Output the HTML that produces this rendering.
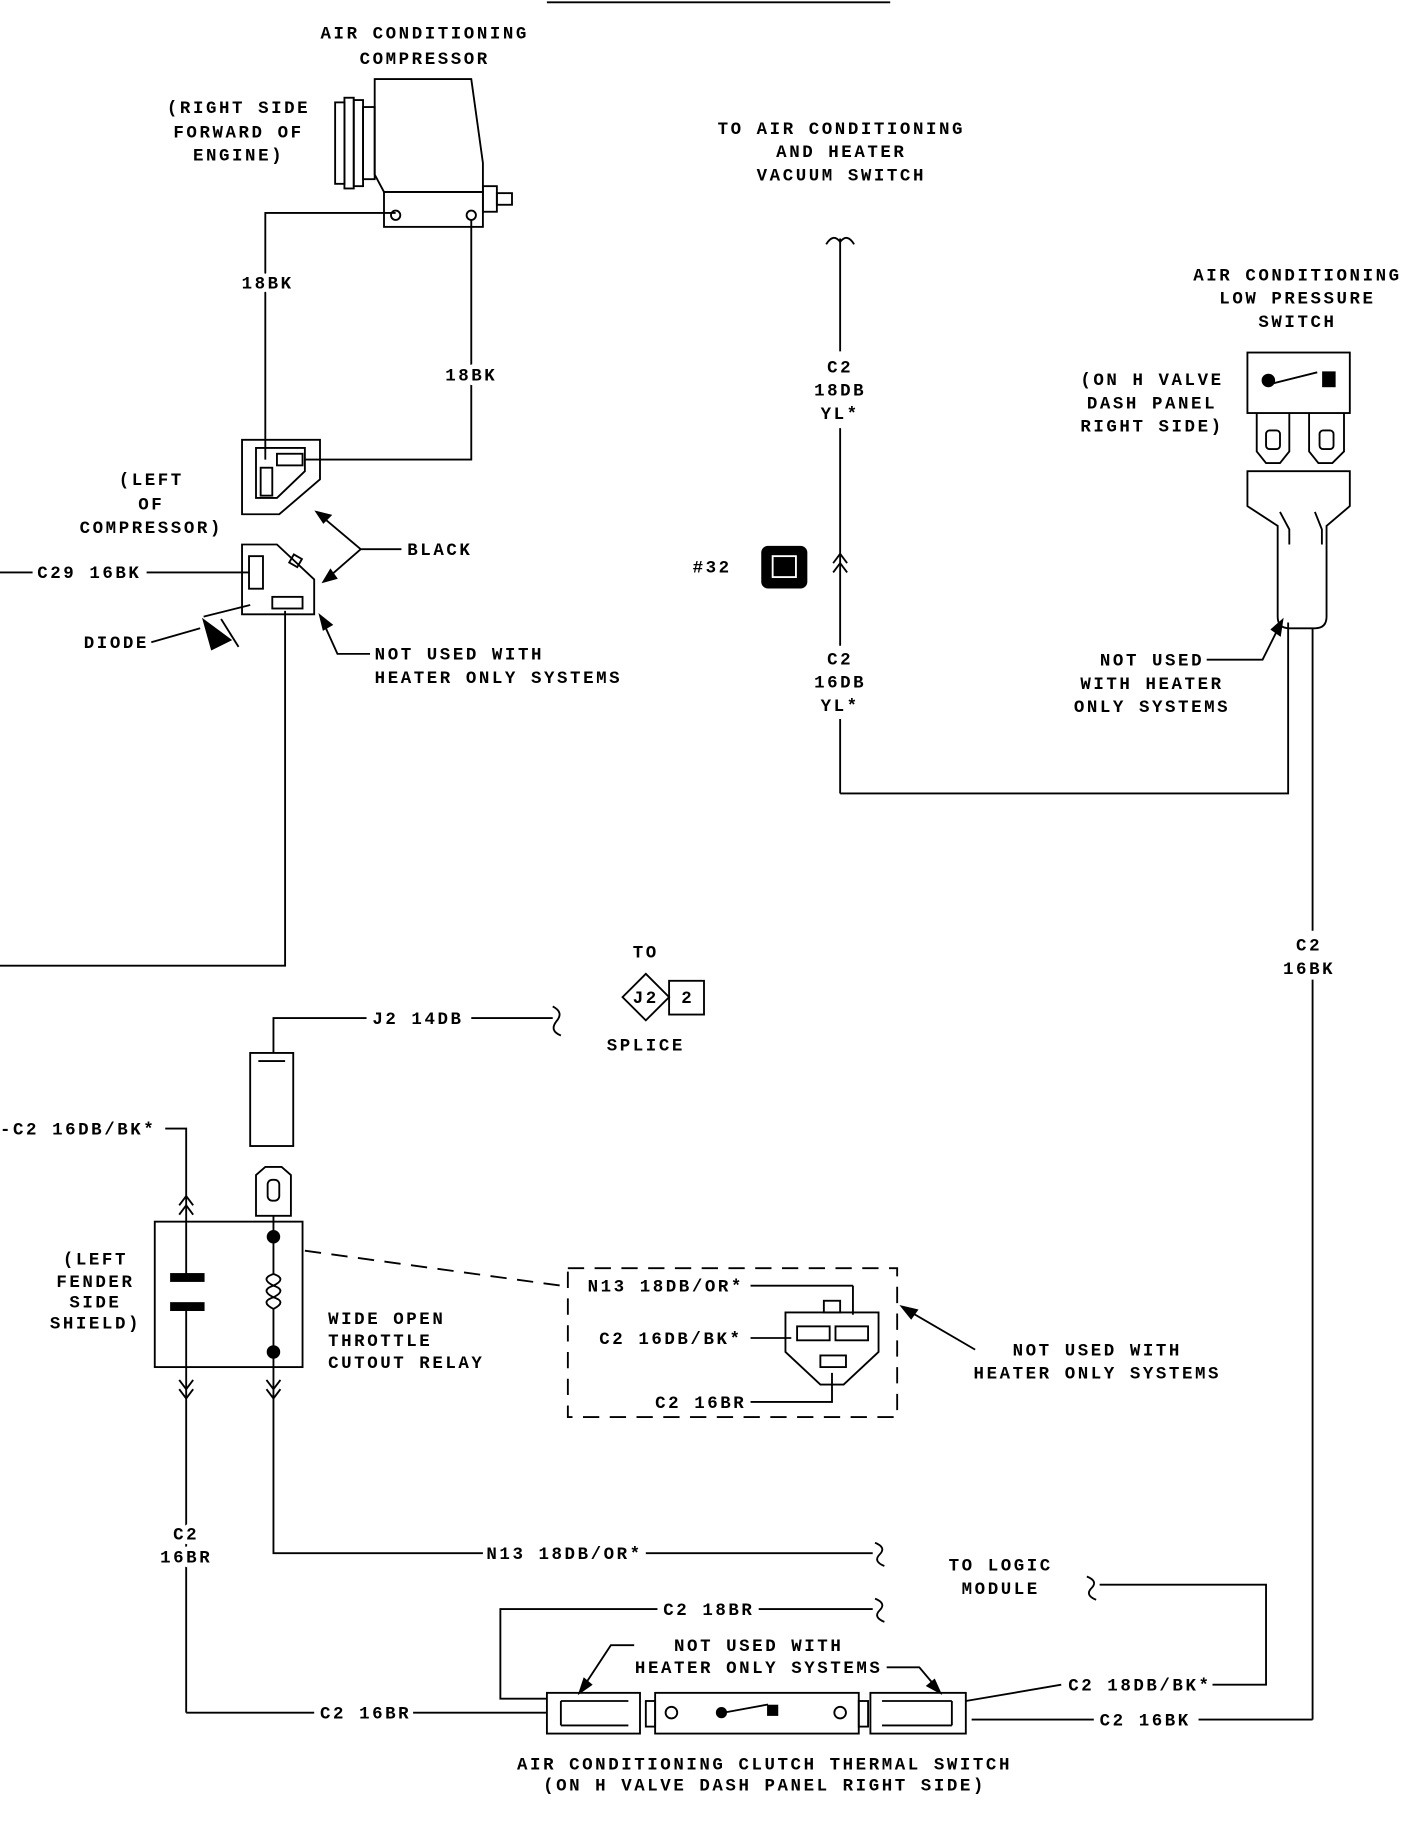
<!DOCTYPE html>
<html><head><meta charset="utf-8"><style>
html,body{margin:0;padding:0;background:#fff;}
svg{display:block}
text{font-family:"Liberation Mono",monospace;font-weight:bold;font-size:15px;letter-spacing:2.2px;fill:#000}
.c{text-anchor:middle}
.h{stroke:#fff;stroke-width:8px;paint-order:stroke;stroke-linejoin:round}
</style></head><body>
<svg width="1408" height="1822" viewBox="0 0 1210 1566" preserveAspectRatio="none" xmlns="http://www.w3.org/2000/svg">
<g stroke="#000" stroke-width="1.6" fill="none">
<line x1="470" y1="2" x2="765" y2="2"/>
<!-- compressor -->
<rect x="288" y="88" width="8" height="70"/><rect x="296" y="84" width="8" height="78"/><rect x="304" y="86" width="8" height="74"/><rect x="312" y="92" width="10" height="62"/>
<path d="M322,68 L405,68 L415,140 L415,165 L330,165 L322,150 Z"/>
<rect x="330" y="165" width="85" height="30"/>
<circle cx="340" cy="185" r="4"/><circle cx="405" cy="185" r="4"/>
<rect x="415" y="160" width="12" height="22"/><rect x="427" y="166" width="13" height="10"/>
<polyline points="340,183 228,183 228,395"/>
<polyline points="405,189 405,395 262,395"/>
<!-- upper connector -->
<path d="M208,378 L275,378 L275,412 L240,442 L208,442 Z"/>
<path d="M220,385 L262,385 L262,405 L238,428 L220,428 Z"/>
<rect x="224" y="402" width="10" height="24"/><rect x="238" y="390" width="22" height="10"/>
<!-- lower connector -->
<path d="M208,468 L238,468 L270,498 L270,528 L208,528 Z"/>
<rect x="214" y="478" width="12" height="28"/><rect x="234" y="513" width="26" height="10"/>
<rect x="250" y="478" width="8" height="8" transform="rotate(30 254 482)"/>
<polyline points="0,492 28,492"/><polyline points="126,492 214,492"/>
<polyline points="245,525 245,830 0,830"/>
<!-- diode -->
<polyline points="130,552 172,540"/>
<polyline points="175,530 215,520"/>
<path d="M175,533 L198,550 L182,558 Z" fill="#000"/>
<line x1="190" y1="532" x2="205" y2="556"/>
<!-- BLACK arrows -->
<polyline points="345,472 310,472 272,440"/>
<polyline points="310,472 278,500"/>
<path d="M272,440 L284,443 L278,449 Z" fill="#000"/>
<path d="M278,500 L284,490 L289,497 Z" fill="#000"/>
<polyline points="318,562 290,562 276,531"/>
<path d="M275,529 L285,537 L278,541 Z" fill="#000"/>
<!-- middle vertical -->
<path d="M710,210 Q716,200 722,208 Q728,200 734,210"/>
<line x1="722" y1="205" x2="722" y2="302"/>
<line x1="722" y1="368" x2="722" y2="555"/>
<line x1="722" y1="618" x2="722" y2="682"/>
<polyline points="716,484 722,476 728,484"/><polyline points="716,492 722,484 728,492"/>
<polyline points="722,682 1107,682 1107,535"/>
<rect x="655" y="470" width="38" height="35" rx="5" fill="#000"/>
<rect x="664" y="478" width="20" height="18" stroke="#fff" fill="none"/>
<!-- low pressure switch -->
<rect x="1072" y="303" width="88" height="52"/>
<circle cx="1090" cy="327" r="5" fill="#000"/><rect x="1137" y="320" width="10" height="12" fill="#000"/>
<line x1="1092" y1="330" x2="1132" y2="320"/>
<path d="M1080,355 L1080,388 L1088,398 L1100,398 L1108,388 L1108,355"/>
<path d="M1125,355 L1125,388 L1133,398 L1145,398 L1155,388 L1155,355"/>
<rect x="1088" y="370" width="12" height="16" rx="3"/><rect x="1134" y="370" width="12" height="16" rx="3"/>
<path d="M1072,405 L1160,405 L1160,435 L1140,452 L1140,530 Q1140,540 1130,540 L1108,540 Q1098,540 1098,530 L1098,452 L1072,435 Z"/>
<path d="M1100,440 L1108,455 L1108,468 M1130,440 L1136,455 L1136,468"/>
<line x1="1128" y1="540" x2="1128" y2="800"/>
<line x1="1128" y1="842" x2="1128" y2="1478"/>
<polyline points="1037,567 1085,567 1100,537"/>
<path d="M1102,533 L1100,546 L1093,541 Z" fill="#000"/>
<!-- splice -->
<path d="M555,837 L575,857 L555,877 L535,857 Z"/>
<rect x="575" y="843" width="30" height="29"/>
<polyline points="235,905 235,875 315,875"/>
<line x1="405" y1="875" x2="475" y2="875"/>
<path d="M475,865 Q485,870 478,878 Q472,886 482,890"/>
<!-- relay -->
<rect x="215" y="905" width="37" height="80"/><line x1="222" y1="912" x2="245" y2="912"/>
<path d="M220,1045 L220,1010 L228,1003 L242,1003 L250,1010 L250,1045 Z"/>
<rect x="230" y="1014" width="10" height="18" rx="4"/>
<line x1="235" y1="1045" x2="235" y2="1063"/>
<rect x="133" y="1050" width="127" height="125"/>
<polyline points="142,970 160,970 160,1098"/>
<rect x="147" y="1095" width="28" height="6" fill="#000"/><rect x="147" y="1120" width="28" height="6" fill="#000"/>
<line x1="160" y1="1126" x2="160" y2="1472"/>
<polyline points="154,1036 160,1028 166,1036"/><polyline points="154,1044 160,1036 166,1044"/>
<polyline points="154,1186 160,1194 166,1186"/><polyline points="154,1194 160,1202 166,1194"/>
<polyline points="229,1186 235,1194 241,1186"/><polyline points="229,1194 235,1202 241,1194"/>
<circle cx="235" cy="1063" r="5" fill="#000"/><circle cx="235" cy="1162" r="5" fill="#000"/>
<line x1="235" y1="1063" x2="235" y2="1095"/>
<path d="M235,1095 q-12,4 0,10 q-12,4 0,10 q-12,4 0,10"/>
<path d="M235,1095 q12,4 0,10 q12,4 0,10 q12,4 0,10"/>
<line x1="235" y1="1125" x2="235" y2="1162"/>
<polyline points="235,1162 235,1335 415,1335"/>
<line x1="262" y1="1075" x2="482" y2="1105" stroke-dasharray="14,9"/>
<rect x="488" y="1090" width="283" height="128" stroke-dasharray="14,9"/>
<line x1="645" y1="1105" x2="733" y2="1105"/><line x1="733" y1="1105" x2="733" y2="1130"/>
<line x1="645" y1="1150" x2="680" y2="1150"/>
<polyline points="645,1205 715,1205 715,1180"/>
<path d="M675,1128 L755,1128 L755,1162 L725,1190 L705,1190 L675,1162 Z"/>
<rect x="708" y="1118" width="14" height="10"/>
<rect x="685" y="1140" width="28" height="12"/><rect x="718" y="1140" width="28" height="12"/><rect x="705" y="1165" width="22" height="10"/>
<line x1="838" y1="1160" x2="778" y2="1125"/>
<path d="M775,1123 L788,1126 L783,1133 Z" fill="#000"/>
<!-- bottom wires -->
<polyline points="160,1472 270,1472"/><line x1="355" y1="1472" x2="470" y2="1472"/>
<line x1="555" y1="1335" x2="750" y2="1335"/>
<path d="M752,1326 Q762,1330 756,1336 Q750,1342 760,1346"/>
<polyline points="470,1460 430,1460 430,1383 565,1383"/>
<line x1="652" y1="1383" x2="750" y2="1383"/>
<path d="M752,1374 Q762,1378 756,1384 Q750,1390 760,1394"/>
<path d="M934,1355 Q944,1359 938,1365 Q932,1371 942,1375"/>
<polyline points="945,1362 1088,1362 1088,1448 1042,1448"/>
<line x1="830" y1="1462" x2="912" y2="1448"/>
<line x1="835" y1="1478" x2="940" y2="1478"/><line x1="1030" y1="1478" x2="1128" y2="1478"/>
<!-- thermal switch -->
<rect x="470" y="1455" width="80" height="35"/><path d="M482,1462 L540,1462 M482,1483 L540,1483 M482,1462 L482,1483"/>
<rect x="555" y="1462" width="8" height="22"/>
<rect x="563" y="1455" width="175" height="35"/>
<circle cx="577" cy="1472" r="5"/><circle cx="722" cy="1472" r="5"/>
<circle cx="620" cy="1472" r="4" fill="#000"/><line x1="622" y1="1472" x2="660" y2="1465"/><rect x="660" y="1466" width="8" height="8" fill="#000"/>
<rect x="738" y="1462" width="8" height="22"/>
<rect x="748" y="1455" width="82" height="35"/><path d="M758,1462 L818,1462 M758,1483 L818,1483 M818,1462 L818,1483"/>
<polyline points="545,1414 525,1414 500,1452"/>
<path d="M498,1455 L502,1443 L508,1448 Z" fill="#000"/>
<polyline points="762,1433 790,1433 806,1452"/>
<path d="M808,1455 L797,1449 L803,1444 Z" fill="#000"/>
</g>
<text x="365" y="33" class="c">AIR CONDITIONING</text>
<text x="365" y="55" class="c">COMPRESSOR</text>
<text x="205" y="97" class="c">(RIGHT SIDE</text>
<text x="205" y="118" class="c">FORWARD OF</text>
<text x="205" y="138" class="c">ENGINE)</text>
<text x="230" y="248" class="c h">18BK</text>
<text x="405" y="327" class="c h">18BK</text>
<text x="130" y="417" class="c">(LEFT</text>
<text x="130" y="438" class="c">OF</text>
<text x="130" y="458" class="c">COMPRESSOR)</text>
<text x="350" y="477">BLACK</text>
<text x="32" y="497">C29 16BK</text>
<text x="72" y="557">DIODE</text>
<text x="322" y="567">NOT USED WITH</text>
<text x="322" y="587">HEATER ONLY SYSTEMS</text>
<text x="723" y="115" class="c">TO AIR CONDITIONING</text>
<text x="723" y="135" class="c">AND HEATER</text>
<text x="723" y="155" class="c">VACUUM SWITCH</text>
<text x="722" y="320" class="c">C2</text>
<text x="722" y="340" class="c">18DB</text>
<text x="722" y="360" class="c">YL*</text>
<text x="612" y="492" class="c">#32</text>
<text x="722" y="571" class="c">C2</text>
<text x="722" y="591" class="c">16DB</text>
<text x="722" y="611" class="c">YL*</text>
<text x="1115" y="241" class="c">AIR CONDITIONING</text>
<text x="1115" y="261" class="c">LOW PRESSURE</text>
<text x="1115" y="281" class="c">SWITCH</text>
<text x="990" y="331" class="c">(ON H VALVE</text>
<text x="990" y="351" class="c">DASH PANEL</text>
<text x="990" y="371" class="c">RIGHT SIDE)</text>
<text x="990" y="572" class="c">NOT USED</text>
<text x="990" y="592" class="c">WITH HEATER</text>
<text x="990" y="612" class="c">ONLY SYSTEMS</text>
<text x="1125" y="817" class="c">C2</text>
<text x="1125" y="837" class="c">16BK</text>
<text x="555" y="823" class="c">TO</text>
<text x="555" y="862" class="c" font-size="13">J2</text>
<text x="591" y="862" class="c">2</text>
<text x="555" y="903" class="c">SPLICE</text>
<text x="320" y="880">J2 14DB</text>
<text x="0" y="975">-C2 16DB/BK*</text>
<text x="82" y="1087" class="c">(LEFT</text>
<text x="82" y="1106" class="c">FENDER</text>
<text x="82" y="1124" class="c">SIDE</text>
<text x="82" y="1142" class="c">SHIELD)</text>
<text x="282" y="1138">WIDE OPEN</text>
<text x="282" y="1157">THROTTLE</text>
<text x="282" y="1176">CUTOUT RELAY</text>
<text x="505" y="1110">N13 18DB/OR*</text>
<text x="515" y="1155">C2 16DB/BK*</text>
<text x="563" y="1210">C2 16BR</text>
<text x="943" y="1165" class="c">NOT USED WITH</text>
<text x="943" y="1185" class="c">HEATER ONLY SYSTEMS</text>
<text x="160" y="1323" class="c h">C2</text>
<text x="160" y="1343" class="c h">16BR</text>
<text x="418" y="1340">N13 18DB/OR*</text>
<text x="860" y="1350" class="c">TO LOGIC</text>
<text x="860" y="1370" class="c">MODULE</text>
<text x="570" y="1388">C2 18BR</text>
<text x="652" y="1419" class="c">NOT USED WITH</text>
<text x="652" y="1438" class="c">HEATER ONLY SYSTEMS</text>
<text x="918" y="1453">C2 18DB/BK*</text>
<text x="275" y="1477">C2 16BR</text>
<text x="945" y="1483">C2 16BK</text>
<text x="657" y="1521" class="c">AIR CONDITIONING CLUTCH THERMAL SWITCH</text>
<text x="657" y="1539" class="c">(ON H VALVE DASH PANEL RIGHT SIDE)</text>
</svg>
</body></html>
